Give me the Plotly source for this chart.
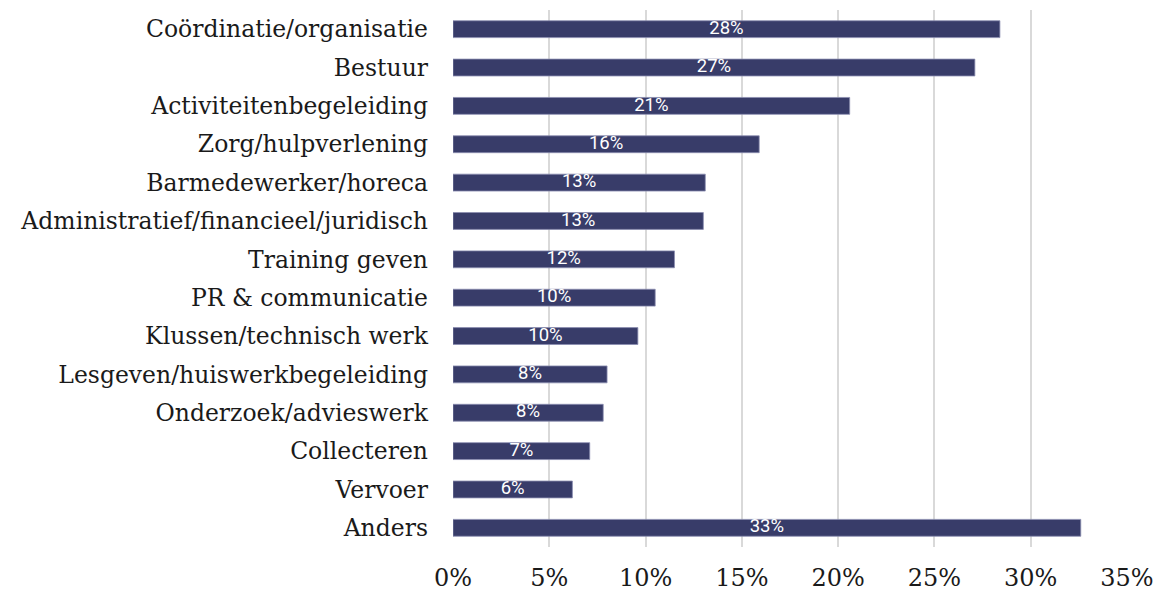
import plotly.graph_objects as go

categories = [
    "Coördinatie/organisatie", "Bestuur", "Activiteitenbegeleiding",
    "Zorg/hulpverlening", "Barmedewerker/horeca",
    "Administratief/financieel/juridisch", "Training geven",
    "PR & communicatie", "Klussen/technisch werk",
    "Lesgeven/huiswerkbegeleiding", "Onderzoek/advieswerk",
    "Collecteren", "Vervoer", "Anders",
]
values = [0.284, 0.271, 0.206, 0.159, 0.131, 0.130, 0.115,
          0.105, 0.096, 0.080, 0.078, 0.071, 0.062, 0.326]
tick_vals = [0, 0.05, 0.10, 0.15, 0.20, 0.25, 0.30, 0.35]
tick_text = ["0%", "5%", "10%", "15%", "20%", "25%", "30%", "35%"]

fig = go.Figure()
fig.add_trace(go.Bar(
    x=values, y=categories, orientation="h",
    marker=dict(color="#383c69", line=dict(color="#8a8db0", width=0.8)),
    textposition="none", hoverinfo="x+y",
))
fig.add_trace(go.Scatter(
    x=[v / 2 for v in values], y=categories, mode="text",
    text=[f"{round(v * 100)}%" for v in values],
    textposition="middle center",
    textfont=dict(family="Roboto", size=18.5, color="white"),
    hoverinfo="skip",
))
fig.update_layout(
    width=1159, height=594,
    margin=dict(l=453, r=32, t=10, b=47, autoexpand=False),
    plot_bgcolor="white", paper_bgcolor="white",
    bargap=0.56, showlegend=False,
    font=dict(family="DejaVu Serif", size=23, color="#1a1a1a"),
)
fig.update_xaxes(range=[0, 0.35], tickvals=tick_vals, ticktext=tick_text,
                 showgrid=True, gridcolor="#d9d9d9", gridwidth=2,
                 zeroline=False, showline=False, ticks="", automargin=False,
                 tickfont=dict(family="DejaVu Serif", size=24, color="#1a1a1a"),
                 ticklabelstandoff=14)
fig.update_yaxes(range=[len(categories) - 0.5, -0.5],
                 categoryorder="array", categoryarray=categories,
                 showgrid=False, showline=False,
                 ticks="", ticklabelstandoff=24, automargin=False,
                 tickfont=dict(family="DejaVu Serif", size=23.5, color="#1a1a1a"))
fig.write_html("out.html", config={"displayModeBar": False},
               post_script="document.body.style.margin='0';document.body.style.overflow='hidden';")
